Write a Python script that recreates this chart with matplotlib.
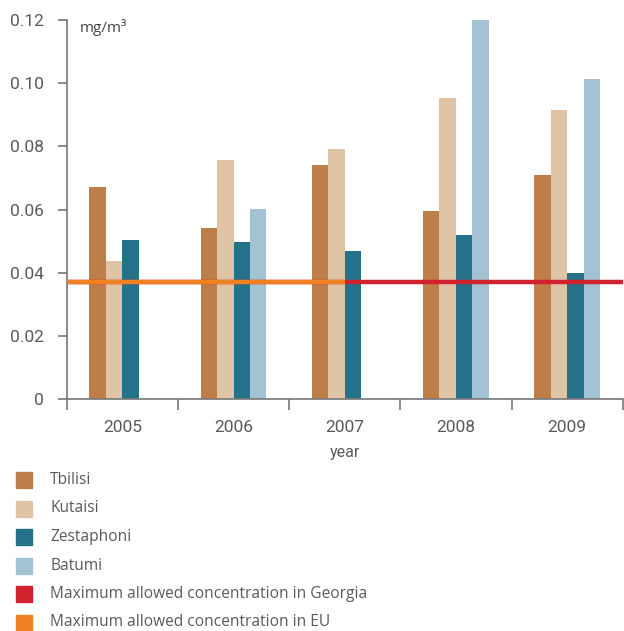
import matplotlib
matplotlib.use("Agg")
import matplotlib.pyplot as plt
from matplotlib.patches import Rectangle
import numpy as np

years = ["2005", "2006", "2007", "2008", "2009"]
cities = ["Tbilisi", "Kutaisi", "Zestaphoni", "Batumi"]
tbilisi = [0.0673, 0.0543, 0.0742, 0.0597, 0.0708]
kutaisi = [0.0438, 0.0756, 0.0792, 0.0952, 0.0915]
zestaphoni = [0.0505, 0.0496, 0.0468, 0.0521, 0.0398]
batumi = [np.nan, 0.0601, np.nan, 0.1203, 0.1015]
mac_georgia = 0.037
mac_eu = 0.037
yticks = [0, 0.02, 0.04, 0.06, 0.08, 0.10, 0.12]
ytick_labels = ["0", "0.02", "0.04", "0.06", "0.08", "0.10", "0.12"]

colors = ["#BE7E4A", "#DFC5A6", "#26718A", "#A3C2D3"]
red = "#D0232E"
orange = "#F08122"
grey = "#5a5a5a"

fig = plt.figure(figsize=(6.24, 6.31), dpi=100)
ax = fig.add_axes([0.107, 0.3677, 0.891, 0.6003])

x = np.arange(len(years))
w = 0.148
for i, vals in enumerate([tbilisi, kutaisi, zestaphoni, batumi]):
    ax.bar(x + (i - 1.5) * w, vals, width=w, color=colors[i], zorder=2)

# limit lines
ax.plot([-0.5, 4.5], [mac_georgia, mac_georgia], color=red, lw=3.2, zorder=3,
        solid_capstyle="butt")
ax.plot([-0.5, 2.0], [mac_eu, mac_eu], color=orange, lw=3.2, zorder=4,
        solid_capstyle="butt")

ax.set_xlim(-0.5, 4.5)
ax.set_ylim(0, 0.12)
ax.set_yticks(yticks)
ax.set_yticklabels(ytick_labels, fontsize=12.5, color=grey, family="Roboto")
ax.set_xticks(np.arange(-0.5, 5, 1))
ax.set_xticklabels([])
ax.set_xticks(x, minor=True)
ax.set_xticklabels(years, minor=True, fontsize=12.5, color=grey, family="Roboto")
ax.tick_params(axis="x", which="minor", length=0, pad=15)
ax.tick_params(axis="x", which="major", length=8, width=1.2, color="#777777",
               direction="out")
ax.tick_params(axis="y", length=6.5, width=1.2, color="#777777", pad=10)
for s in ["top", "right"]:
    ax.spines[s].set_visible(False)
for s in ["left", "bottom"]:
    ax.spines[s].set_color("#777777")
    ax.spines[s].set_linewidth(1.2)
ax.set_xlabel("year", fontsize=11.5, color=grey, family="Roboto", labelpad=7)
ax.text(80 / 624, 1 - 28 / 631, "mg/m³", transform=fig.transFigure, fontsize=11,
        color="#444444", family="Open Sans", va="center")

# legend
labels = cities + ["Maximum allowed concentration in Georgia",
                   "Maximum allowed concentration in EU"]
lcolors = colors + [red, orange]
for k, (lab, c) in enumerate(zip(labels, lcolors)):
    yc = 480 + k * 28.5
    fig.patches.append(Rectangle((16 / 624, 1 - (yc + 8) / 631), 16 / 624, 16 / 631,
                                 transform=fig.transFigure, color=c))
    fig.text(50 / 624, 1 - yc / 631, lab, fontsize=11.2, color=grey,
             family="Open Sans", va="center")

fig.savefig("out.png", dpi=100)
